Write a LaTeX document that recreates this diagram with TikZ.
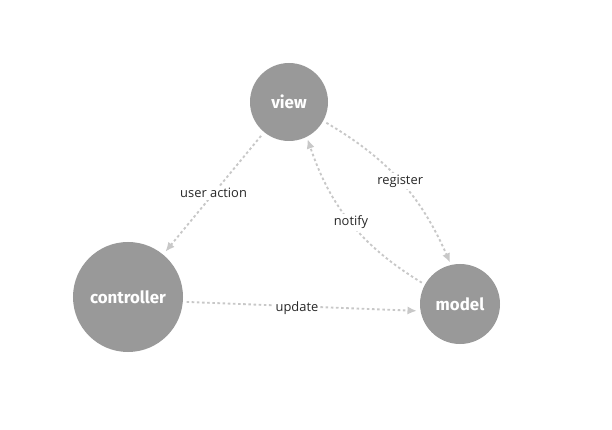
\documentclass[tikz,border=0pt]{standalone}
\usepackage{fontspec}
\setmainfont{Open Sans}
\newfontfamily\roundfont{Fira Sans}
\usetikzlibrary{arrows.meta,positioning}
\definecolor{ballc}{RGB}{153,153,153}
\definecolor{linkc}{RGB}{200,200,200}
\definecolor{txtc}{RGB}{40,40,40}

\tikzset{
  ball/.style={circle,fill=ballc,text=white,font=\roundfont\bfseries\Large,inner sep=0pt},
  link/.style={linkc,line width=1.6pt,dash pattern=on 2.2pt off 2.2pt,-{Latex[length=8pt,width=7pt]}},
  lbl/.style={fill=white,text=txtc,font=\fontsize{11}{13}\selectfont,inner sep=1.5pt}
}

\begin{document}
\begin{tikzpicture}[x=0.03cm,y=-0.03cm]
  \useasboundingbox (0,0) rectangle (612,430);
  % the three parts
  \node[ball,minimum size=2.34cm] (view) at (289,102) {view};
  \node[ball,minimum size=3.3cm] (controller) at (128,297) {controller};
  \node[ball,minimum size=2.4cm] (model) at (460,304) {model};
  % messages between them
  \draw[link,shorten <=4pt,shorten >=3pt] (view) -- node[lbl,pos=0.5] {user action} (controller);
  \draw[link,shorten <=3pt,shorten >=2pt] (view.-29) to[bend left=18] node[lbl,pos=0.5] {register} (model.103);
  \draw[link,shorten <=3pt,shorten >=2pt] (model.151) to[bend left=20] node[lbl,pos=0.5] {notify} (view.-63);
  \draw[link,shorten <=3pt,shorten >=3pt] (controller.-5) -- node[lbl,pos=0.48,yshift=-2pt] {update} (model.190);
\end{tikzpicture}
\end{document}
